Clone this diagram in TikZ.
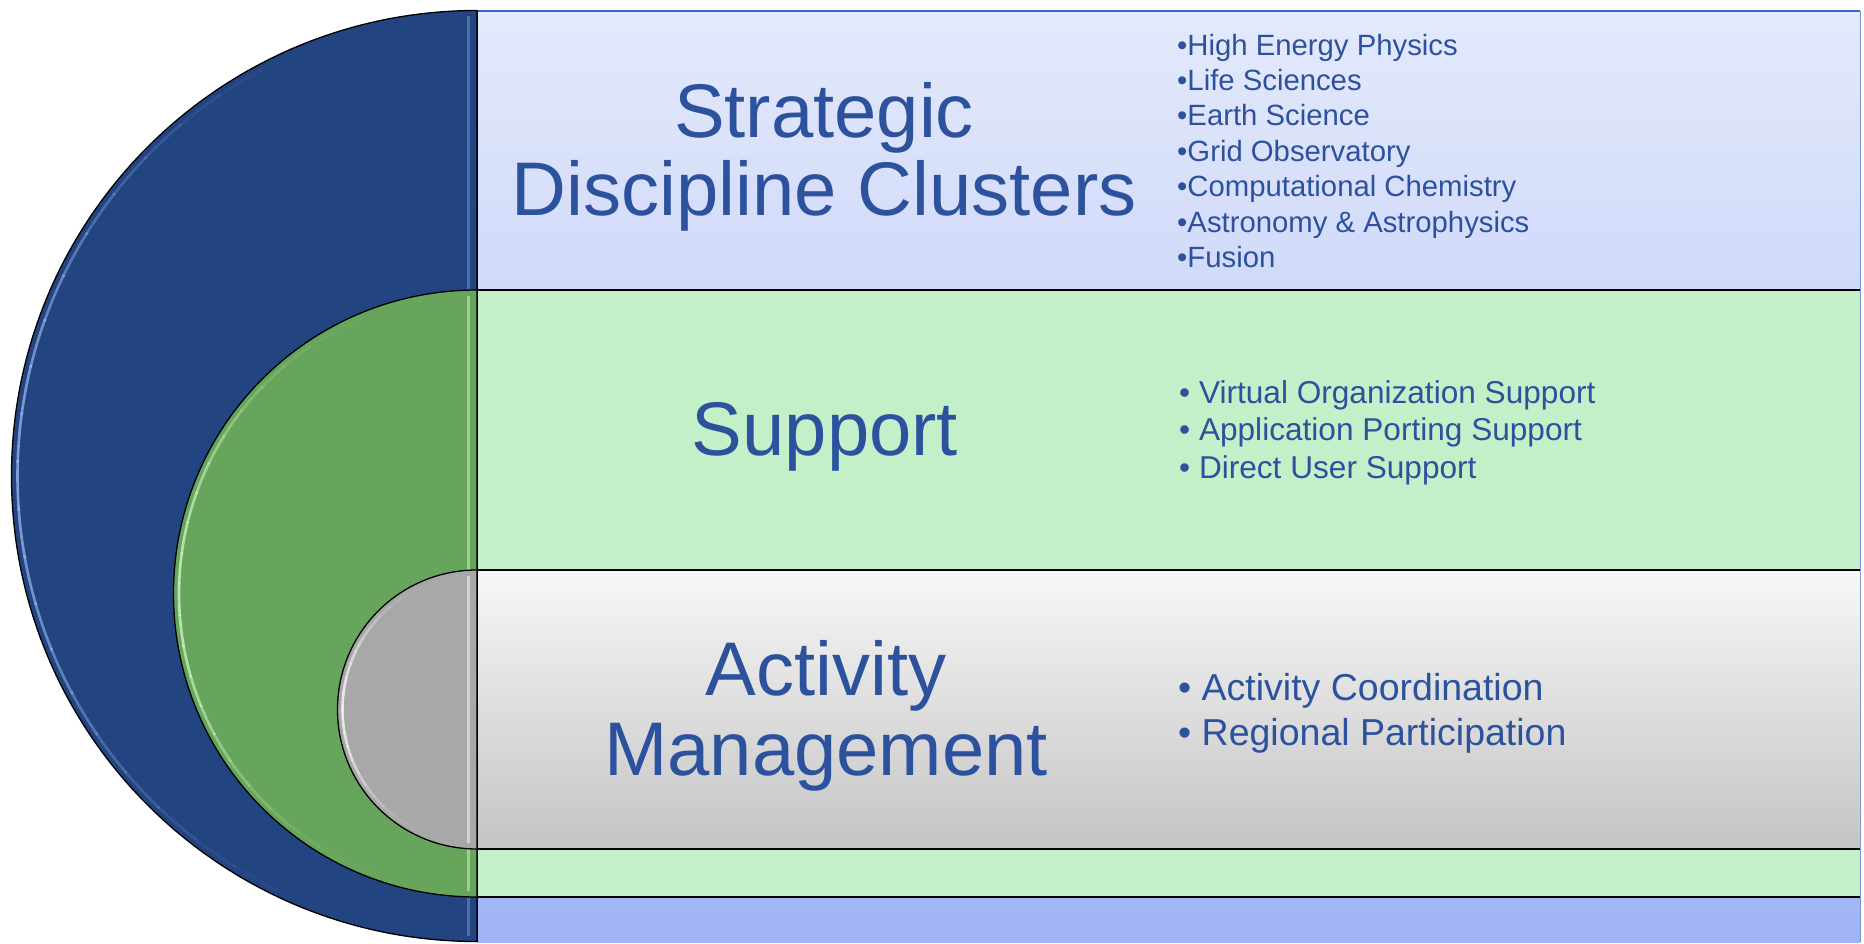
\documentclass[tikz,border=0pt]{standalone}
\usepackage{fontspec}
\setmainfont{Liberation Sans}
\definecolor{navy}{RGB}{34,68,128}
\definecolor{navyhi}{RGB}{160,188,240}
\definecolor{leaf}{RGB}{102,165,91}
\definecolor{leafhi}{RGB}{215,252,206}
\definecolor{stone}{RGB}{168,168,168}
\definecolor{stonehi}{RGB}{255,255,255}
\definecolor{txt}{RGB}{44,82,158}
\definecolor{lavtop}{RGB}{228,233,251}
\definecolor{lavbot}{RGB}{160,180,245}
\definecolor{mint}{RGB}{195,240,200}
\definecolor{greytop}{RGB}{247,247,247}
\definecolor{greybot}{RGB}{196,196,196}
\definecolor{rimblue}{RGB}{58,100,200}
\newcommand\glossarc[4]{% center x, center y, radius, colour
  \foreach \a in {100,106,...,254}{%
    \pgfmathsetmacro\op{0.75*(cos(\a+3-180))^4}%
    \draw[#4, line width=2.6pt, opacity=\op]
      ([shift={(#1,#2)}]\a:#3pt) arc[start angle=\a, end angle=\a+6.3, radius=#3pt];
  }}
\begin{document}
\begin{tikzpicture}[x=1pt,y=-1pt,
  head/.style={font=\fontsize{76}{78}\selectfont, text=txt, anchor=base, inner sep=0pt},
  itemA/.style={font=\fontsize{29.3}{34}\selectfont, text=txt, anchor=base west, inner sep=0pt},
  itemB/.style={font=\fontsize{31.6}{36}\selectfont, text=txt, anchor=base west, inner sep=0pt},
  itemC/.style={font=\fontsize{37.5}{42}\selectfont, text=txt, anchor=base west, inner sep=0pt},
  sep/.style={draw=black, line width=1.8pt},
  rim/.style={draw=black, line width=1.3pt},
  vgloss/.style={line width=3pt, opacity=0.35}]
\useasboundingbox (0,0) rectangle (1864,943);

% ---- bands ----
\fill[top color=lavtop, bottom color=lavbot] (477,11) rectangle (1860,942);
\draw[rimblue, line width=2pt] (477,11) -- (1860,11);
\draw[rimblue!70, line width=1pt] (1860,11) -- (1860,942);
\fill[mint] (477,290) rectangle (1860,897);
\draw[sep] (477,290) -- (1860,290);
\draw[sep] (477,897) -- (1860,897);
\fill[top color=greytop, bottom color=greybot] (477,570) rectangle (1860,849);
\draw[sep] (477,570) -- (1860,570);
\draw[sep] (477,849) -- (1860,849);

% ---- blue half disc ----
\filldraw[fill=navy, rim] (477,10.5) arc[start angle=90, end angle=270, radius=465.5pt] -- cycle;
\glossarc{477}{476}{459.5}{navyhi}
\draw[navyhi, vgloss] (468,16) -- (468,936);

% ---- green half disc ----
\filldraw[fill=leaf, rim] (477,290) arc[start angle=90, end angle=270, radius=303.5pt] -- cycle;
\glossarc{477}{593.5}{298}{leafhi}
\draw[leafhi, vgloss, opacity=0.5] (468,296) -- (468,891);

% ---- grey half disc ----
\filldraw[fill=stone, rim] (477,570) arc[start angle=90, end angle=270, radius=139.5pt] -- cycle;
\glossarc{477}{709.5}{134.5}{stonehi}
\draw[stonehi, vgloss, opacity=0.5] (468,576) -- (468,843);

\draw[black, line width=1pt] (477,11) -- (477,942);

% ---- headings ----
\node[head] (h1a) at (824,137) {Strategic};
\node[head] (h1b) at (824,215) {Discipline Clusters};
\node[head] (h2) at (825,455) {Support};
\node[head] (h3a) at (826,695) {Activity};
\node[head] (h3b) at (826,775) {Management};

% ---- lists ----
\node[itemA] (a1) at (1177,55) {•High Energy Physics};
\node[itemA] (a2) at (1177,90.4) {•Life Sciences};
\node[itemA] (a3) at (1177,125.8) {•Earth Science};
\node[itemA] (a4) at (1177,161.2) {•Grid Observatory};
\node[itemA] (a5) at (1177,196.6) {•Computational Chemistry};
\node[itemA] (a6) at (1177,232) {•Astronomy \& Astrophysics};
\node[itemA] (a7) at (1177,267.4) {•Fusion};

\node[itemB] (b1) at (1179,403.3) {• Virtual Organization Support};
\node[itemB] (b2) at (1179,440.8) {• Application Porting Support};
\node[itemB] (b3) at (1179,478.3) {• Direct User Support};

\node[itemC] (c1) at (1178,700.7) {• Activity Coordination};
\node[itemC] (c2) at (1178,745.7) {• Regional Participation};
\end{tikzpicture}
\end{document}
